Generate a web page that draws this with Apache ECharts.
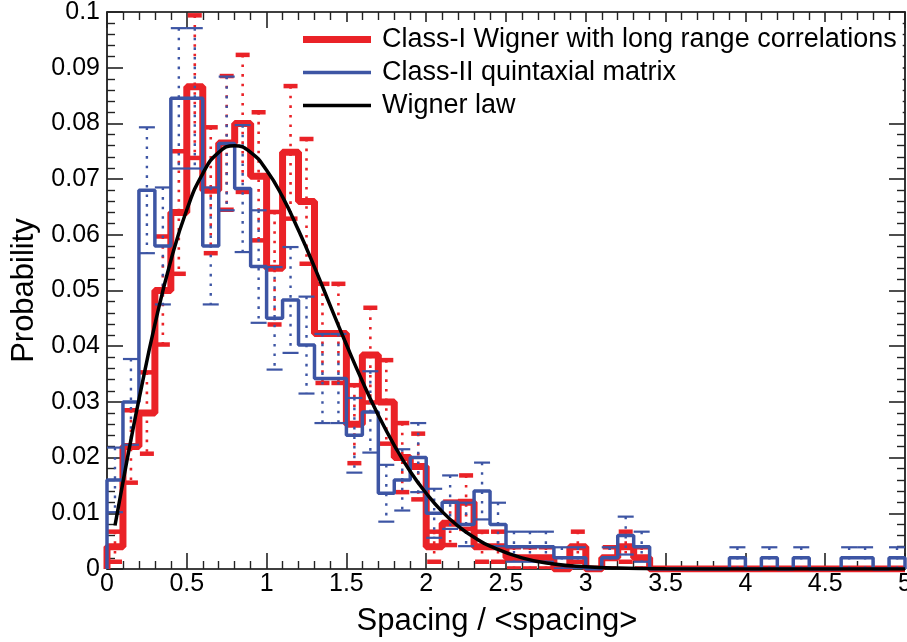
<!DOCTYPE html>
<html><head><meta charset="utf-8">
<script src="https://cdn.jsdelivr.net/npm/echarts@6/dist/echarts.min.js"></script>
<style>html,body{margin:0;padding:0;background:#fff}#c{width:907px;height:642px}</style>
</head><body><div id="c"></div>
<script>
// ---- data ----
const binWidth = 0.1;
const xTicks = ['0','0.5','1','1.5','2','2.5','3','3.5','4','4.5','5'];
const seriesNames = ['Class-I Wigner with long range correlations','Class-II quintaxial matrix','Wigner law'];

// Class-I (red) bin contents, bins of 0.1 from 0 to 5
const redVals = [0.004,0.022,0.028,0.050,0.064,0.0866,0.068,0.0765,0.080,0.0705,
                 0.054,0.0748,0.066,0.0423,0.0423,0.026,0.0384,0.030,0.020,0.0184,
                 0.004,0.0082,0.012,0.004,0.004,0.002,0.002,0.002,0,0.004,
                 0,0.002,0.004,0.002,0,0,0,0,0,0,
                 0,0,0,0,0,0,0,0,0,0];
const redErrs = [0.0027,0.0065,0.0073,0.0097,0.0110,0.0128,0.0113,0.0120,0.0123,0.0115,
                 0.0101,0.0119,0.0112,0.0089,0.0089,0.0070,0.0085,0.0075,0.0062,0.0059,
                 0.0027,0.0039,0.0048,0.0027,0.0027,0.0019,0.0019,0.0019,0,0.0027,
                 0,0.0019,0.0027,0.0019,0,0,0,0,0,0,
                 0,0,0,0,0,0,0,0,0,0];
// Class-II (blue) bin contents
const blueVals = [0.016,0.030,0.068,0.058,0.0845,0.0845,0.058,0.0764,0.0683,0.0543,
                  0.045,0.0483,0.0402,0.0342,0.0342,0.024,0.0282,0.0136,0.016,0.020,
                  0.010,0.012,0.008,0.014,0.008,0.004,0.004,0.004,0.002,0.002,
                  0,0.002,0.006,0.004,0,0,0,0,0,0.002,
                  0,0.002,0,0.002,0,0,0.002,0.002,0,0.002];
const blueErrs = [0.0058,0.0077,0.0113,0.0105,0.0126,0.0126,0.0105,0.0120,0.0114,0.0101,
                  0.0092,0.0095,0.0087,0.0080,0.0080,0.0067,0.0073,0.0051,0.0055,0.0062,
                  0.0044,0.0048,0.0039,0.0051,0.0039,0.0027,0.0027,0.0027,0.0019,0.0019,
                  0,0.0019,0.0034,0.0027,0,0,0,0,0,0.0019,
                  0,0.0019,0,0.0019,0,0,0.0019,0.0019,0,0.0019];
// Wigner law curve
const wignerX = [0.05,0.1,0.15,0.2,0.3,0.4,0.5,0.6,0.7,0.8,0.9,1.0,1.1,1.2,1.3,1.4,1.5,1.6,1.7,1.8,1.9,2.0,2.1,2.2,2.3,2.4,2.6,2.8,3.0,3.2,3.5,4.0,4.5,5.0];
const wignerY = [0.0078,0.0156,0.0232,0.0304,0.0439,0.0554,0.0645,0.0710,0.0748,0.0760,0.0748,0.0716,0.0668,0.0608,0.0542,0.0472,0.0403,0.0337,0.0276,0.0222,0.0175,0.0136,0.0103,0.0077,0.0057,0.0041,0.0020,0.0009,0.0004,0.00016,0.00004,0,0,0];

// ---- helpers ----
function stepData(vals){
  const d = [[0,0]];
  vals.forEach((v,i)=>d.push([+(i*binWidth).toFixed(2), v]));
  d.push([+(vals.length*binWidth).toFixed(2), vals[vals.length-1]]);
  d.push([+(vals.length*binWidth).toFixed(2), 0]);
  return d;
}
function errData(vals, errs){
  const d = [];
  vals.forEach((v,i)=>{ if(errs[i]>0) d.push([+(i*binWidth+binWidth/2).toFixed(3), v, errs[i]]); });
  return d;
}
function errSeries(name, vals, errs, color, capW, capLen, dotW, z){
  return {
    type:'custom', name:name, z:z, silent:true, clip:true,
    encode:{x:0, y:1},
    data: errData(vals, errs),
    renderItem:function(params, api){
      const x = api.value(0), v = api.value(1), e = api.value(2);
      const top = api.coord([x, v+e]);
      const bot = api.coord([x, Math.max(v-e,0)]);
      const h = capLen/2;
      return {type:'group', children:[
        {type:'line', shape:{x1:top[0],y1:top[1],x2:bot[0],y2:bot[1]}, style:{stroke:color,lineWidth:dotW,lineDash:[2.6,7]}},
        {type:'line', shape:{x1:top[0]-h,y1:top[1],x2:top[0]+h,y2:top[1]}, style:{stroke:color,lineWidth:capW}},
        {type:'line', shape:{x1:bot[0]-h,y1:bot[1],x2:bot[0]+h,y2:bot[1]}, style:{stroke:color,lineWidth:capW}}
      ]};
    }
  };
}

const RED = '#ea2227', BLUE = '#3d55a4', FONT = 'Liberation Sans, Arial, Helvetica, sans-serif';
function axisCommon(){
  return {
    axisLine:{show:true, onZero:false, lineStyle:{color:'#000', width:1.6}},
    axisTick:{show:true, inside:true, length:16, lineStyle:{color:'#222', width:1.6}},
    minorTick:{show:true, splitNumber:5, length:8, lineStyle:{color:'#222', width:1.4}},
    splitLine:{show:false}, minorSplitLine:{show:false}
  };
}

const chart = echarts.init(document.getElementById('c'), null, {renderer:'canvas'});
chart.setOption({
  animation:false,
  backgroundColor:'#fff',
  grid:{left:107, right:2, top:12, bottom:73, containLabel:false, outerBoundsMode:'none'},
  legend:{
    data:[
      {name:seriesNames[0], icon:'path://M0 0H68V7H0Z'},
      {name:seriesNames[1], icon:'path://M0 0H68V3.5H0Z'},
      {name:seriesNames[2], icon:'path://M0 0H68V3.5H0Z'}
    ],
    orient:'vertical', left:299, top:22, itemWidth:68, itemHeight:20, itemGap:6,
    textStyle:{fontFamily:FONT, fontSize:27, color:'#000', padding:[0,0,0,6]},
    backgroundColor:'#fff', padding:[4,6,4,4]
  },
  xAxis:[
    Object.assign(axisCommon(), {type:'value', min:0, max:5, interval:0.5, position:'bottom',
      name:'Spacing / <spacing>', nameLocation:'middle', nameGap:37,
      nameTextStyle:{fontFamily:FONT, fontSize:31, color:'#000', padding:[0,18,0,0]},
      axisLabel:{fontFamily:FONT, fontSize:25, color:'#000', margin:3,
        formatter:function(v){ return xTicks[Math.round(v/0.5)]; }}}),
    Object.assign(axisCommon(), {type:'value', min:0, max:5, interval:0.5, position:'top', axisLabel:{show:false}})
  ],
  yAxis:[
    Object.assign(axisCommon(), {type:'value', min:0, max:0.1, interval:0.01, position:'left',
      name:'Probability', nameLocation:'middle', nameGap:59, nameRotate:90,
      nameTextStyle:{fontFamily:FONT, fontSize:31, color:'#000'},
      axisLabel:{fontFamily:FONT, fontSize:25, color:'#000', margin:7,
        formatter:function(v){ return v===0 ? '0' : (+v.toFixed(3)).toString(); }}}),
    Object.assign(axisCommon(), {type:'value', min:0, max:0.1, interval:0.01, position:'right', axisLabel:{show:false}})
  ],
  series:[
    {type:'line', name:seriesNames[0], step:'end', data:stepData(redVals), symbol:'none', z:2,
     lineStyle:{color:RED, width:7}, itemStyle:{color:RED}},
    errSeries('redErr', redVals, redErrs, RED, 4.5, 14, 2.6, 2),
    {type:'line', name:seriesNames[1], step:'end', data:stepData(blueVals), symbol:'none', z:3,
     lineStyle:{color:BLUE, width:3.5}, itemStyle:{color:BLUE}},
    errSeries('blueErr', blueVals, blueErrs, BLUE, 2.2, 16, 2.4, 3),
    {type:'line', name:seriesNames[2], data:wignerX.map((x,i)=>[x, wignerY[i]]), symbol:'none', smooth:true, z:4,
     lineStyle:{color:'#000', width:3.5}, itemStyle:{color:'#000'}}
  ]
});
</script>
</body></html>
